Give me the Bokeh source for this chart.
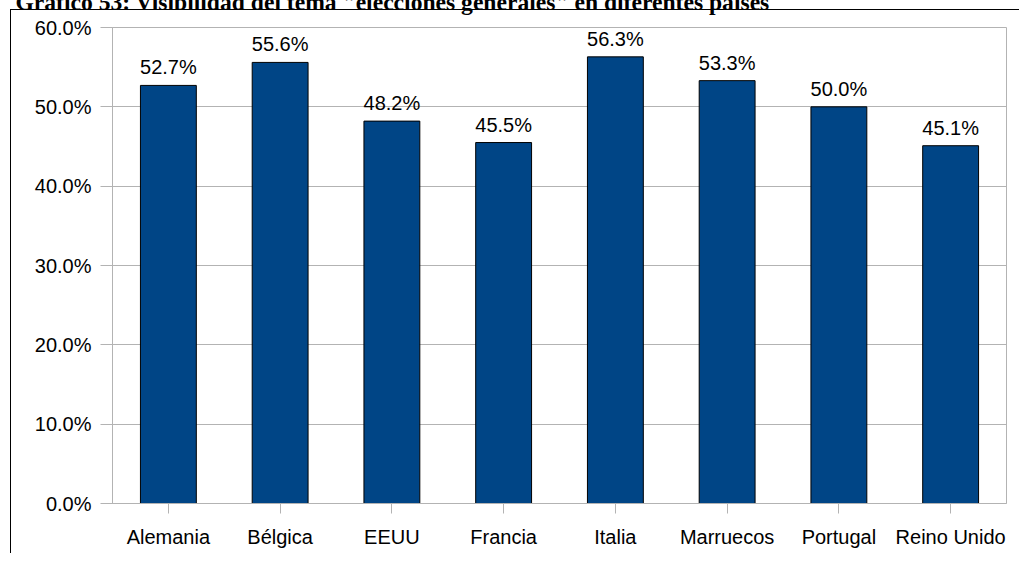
from bokeh.plotting import figure
from bokeh.models import (FactorRange, Range1d, FixedTicker, NumeralTickFormatter,
                          ColumnDataSource)
from bokeh.core.properties import value
from bokeh.embed import file_html
from bokeh.resources import INLINE

categories = ["Alemania", "Bélgica", "EEUU", "Francia", "Italia",
              "Marruecos", "Portugal", "Reino Unido"]
values = [0.527, 0.556, 0.482, 0.455, 0.563, 0.533, 0.500, 0.451]
y_ticks = [0.0, 0.1, 0.2, 0.3, 0.4, 0.5, 0.6]
title_text = 'Gráfico 53: Visibilidad del tema "elecciones generales" en diferentes países'

labels = [f"{v * 100:.1f}%" for v in values]
src = ColumnDataSource(dict(cat=categories, val=values, lab=labels))

D = 34                      # part of the canvas hidden above the page top
W, H = 1019, 553 + D
FL, FR, FT, FB = 112, 1006, 27 + D, 503 + D

# thin black frame lines (left and top) of the original chart box
bg = ("linear-gradient(#000,#000), linear-gradient(#000,#000)")
css = {
    "margin-top": f"-{D}px",
    "background-color": "white",
    "background-image": bg,
    "background-size": "1px 100%, 100% 1px",
    "background-position": f"10px {9 + D}px, 10px {9 + D}px",
    "background-repeat": "no-repeat",
}

p = figure(width=W, height=H, output_backend="svg", toolbar_location=None,
           x_range=FactorRange(*categories, range_padding=0),
           y_range=Range1d(0, 0.6),
           min_border_left=FL, min_border_right=W - FR,
           min_border_top=FT, min_border_bottom=H - FB,
           styles=css)

p.background_fill_color = "white"
p.border_fill_color = None
p.outline_line_color = "#b3b3b3"

p.title.text = title_text
p.title.text_font = "Liberation Serif"
p.title.text_font_style = "bold"
p.title.text_font_size = "23.6px"
p.title.text_color = "black"
p.title.align = "left"
p.title.offset = 15 - FL
p.title.standoff = 26

p.vbar(x="cat", top="val", width=0.5, source=src,
       fill_color="#004586", line_color="black", line_width=1)

p.text(x="cat", y="val", text="lab", source=src, y_offset=-18,
       text_align="center", text_baseline="alphabetic",
       text_font=value("Liberation Sans"), text_font_size="20px",
       text_color="black")

p.xgrid.grid_line_color = None
p.ygrid.grid_line_color = "#b3b3b3"
p.ygrid.ticker = FixedTicker(ticks=y_ticks)

p.yaxis.ticker = FixedTicker(ticks=y_ticks)
p.yaxis.formatter = NumeralTickFormatter(format="0.0%")
p.yaxis.axis_line_color = "#b3b3b3"
p.yaxis.major_tick_line_color = "#b3b3b3"
p.yaxis.major_tick_out = 12
p.yaxis.major_tick_in = 0
p.yaxis.minor_tick_line_color = None
p.yaxis.major_label_standoff = 9
p.yaxis.major_label_text_font = "Liberation Sans"
p.yaxis.major_label_text_font_size = "20px"
p.yaxis.major_label_text_color = "black"

p.xaxis.axis_line_color = "#b3b3b3"
p.xaxis.major_tick_line_color = "#b3b3b3"
p.xaxis.major_tick_out = 10
p.xaxis.major_tick_in = 0
p.xaxis.major_label_standoff = 12
p.xaxis.major_label_text_font = "Liberation Sans"
p.xaxis.major_label_text_font_size = "20px"
p.xaxis.major_label_text_color = "black"

open("out.html", "w").write(file_html(p, INLINE))
